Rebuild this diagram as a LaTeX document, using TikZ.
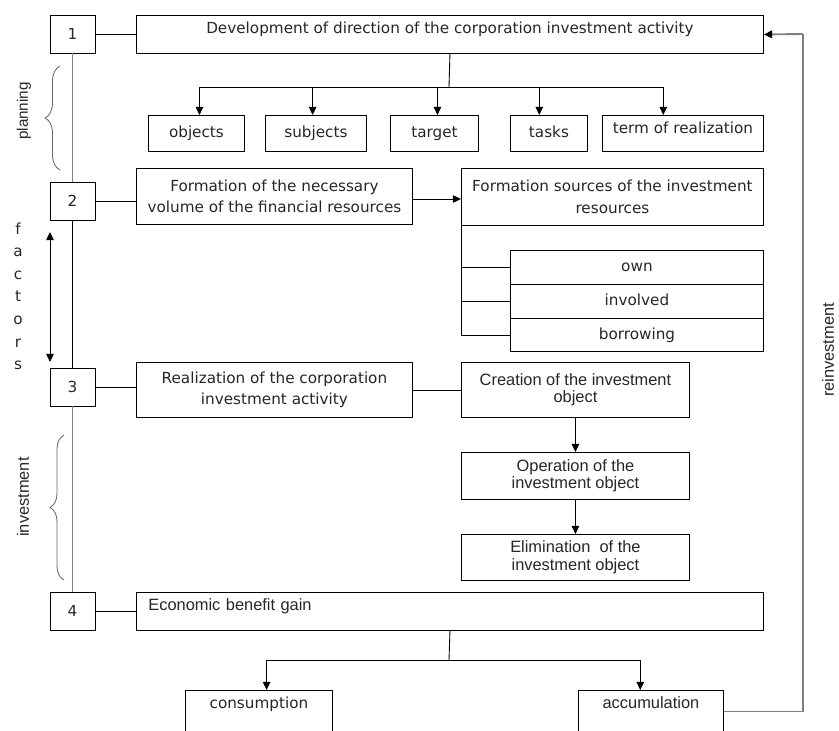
\documentclass[tikz,border=0pt]{standalone}
\usepackage{fontspec}
\setmainfont{DejaVu Sans}
\newfontfamily\arialfont{Liberation Sans}
\usetikzlibrary{arrows.meta,decorations.pathreplacing}

\tikzset{
  >={Triangle[length=7pt,width=6.5pt]},
  every node/.style={text=black!85},
  box/.style={draw, line width=0.75pt, inner sep=0pt, anchor=north west, align=center,
    font=\fontsize{13}{18.5}\selectfont},
  abox/.style={box, font=\arialfont\fontsize{14}{15}\selectfont},
  item/.style={box, minimum height=1.08cm, text height=0.35cm, text depth=0.09cm},
  numbox/.style={draw, line width=0.75pt, minimum width=1.35cm, minimum height=1.14cm,
    inner sep=0pt, font=\fontsize{13}{15}\selectfont},
  conn/.style={line width=0.75pt},
  greyline/.style={line width=1.6pt, black!50},
  bracket/.style={decorate, line width=0.7pt, black!60},
  sidelabel/.style={rotate=90, font=\arialfont\fontsize{14}{15}\selectfont}
}

\begin{document}
\begin{tikzpicture}[x=0.03cm, y=-0.03cm]

\useasboundingbox (0,0) rectangle (839,731);
\clip (0,0) rectangle (839,731);

% stage numbers
\node [numbox] (n1) at (72.5,34) {1};
\node [numbox] (n2) at (72.5,201) {2};
\node [numbox] (n3) at (72.5,387) {3};
\node [numbox] (n4) at (72.5,611) {4};

% stages
\node [box, minimum width=18.81cm, inner ysep=0.2cm, text height=0.35cm, text depth=0.39cm] (dir) at (136,15)
  {Development of direction of the corporation investment activity};
\node [box, minimum width=8.28cm, minimum height=1.68cm] (form) at (136,168)
  {Formation of the necessary\\volume of the financial resources};
\node [box, minimum width=8.28cm, minimum height=1.65cm] (real) at (136,362)
  {Realization of the corporation\\investment activity};
\node [abox, align=left, text width=18.09cm, inner xsep=0.36cm, inner ysep=0.18cm,
  text height=0.36cm, text depth=0.42cm] (gain) at (136,592) {Economic benefit gain};

% planning items
\node [item, minimum width=2.88cm] (obj) at (148,115) {objects};
\node [item, minimum width=3.03cm] (subj) at (265,115) {subjects};
\node [item, minimum width=2.64cm] (targ) at (390,115) {target};
\node [item, minimum width=2.31cm] (tasks) at (510,115) {tasks};
\node [box, minimum width=4.83cm, inner ysep=0.2cm, text height=0.35cm, text depth=0.33cm] (term) at (602,115)
  {term of realization};

% sources
\node [box, minimum width=9.06cm, minimum height=1.71cm] (fs) at (461,168)
  {Formation sources of the investment\\resources};
\node [item, minimum width=7.59cm, minimum height=1.02cm] (own) at (510,250) {own};
\node [item, minimum width=7.59cm, minimum height=1.02cm] (inv) at (510,284) {involved};
\node [item, minimum width=7.59cm, minimum height=0.99cm] (borr) at (510,318) {borrowing};

% investment object
\node [abox, minimum width=6.84cm, minimum height=1.65cm] (cr) at (461,362)
  {Creation of the investment\\object};
\node [abox, minimum width=6.84cm, minimum height=1.41cm] (op) at (461,452)
  {Operation of the\\investment object};
\node [abox, minimum width=6.84cm, minimum height=1.38cm] (el) at (461,534)
  {Elimination\ \ of the\\investment object};

% result
\node [box, minimum width=4.41cm, inner ysep=0.18cm, text height=0.36cm, text depth=0.54cm] (cons) at (185,690)
  {consumption};
\node [abox, minimum width=4.35cm, inner ysep=0.18cm, text height=0.36cm, text depth=0.54cm] (acc) at (578,690)
  {accumulation};

% side labels
\node [sidelabel, font=\arialfont\fontsize{13}{15}\selectfont] (plan) at (24,111) {planning};
\node [sidelabel] (invest) at (23,497) {investment};
\node [sidelabel] (reinv) at (828,350) {reinvestment};
\foreach \l [count=\i] in {f,a,c,t,o,r,s}
  \node [anchor=base, font=\fontsize{13}{15}\selectfont] (fac\i) at (18,{234+22.6*(\i-1)}) {\l};

\coordinate (bus1) at (449,87);
\coordinate (bus2) at (449,660);
\coordinate (ftop) at (50,232);
\coordinate (fbot) at (50,362);
\coordinate (rtop) at (803,34);

% stage links
\draw [conn] (n1.east) -- (n1.east -| dir.west);
\draw [conn] (n2.east) -- (n2.east -| form.west);
\draw [conn] (n3.east) -- (n3.east -| real.west);
\draw [conn] (n4.east) -- (n4.east -| gain.west);
\draw [greyline] (n1) -- (n2);
\draw [conn] (n2) -- (n3);
\draw [greyline] (n3) -- (n4);
\draw [conn, <->] (ftop) -- (fbot);

% planning tree
\draw [conn] (dir.south) -- (bus1);
\draw [conn, ->] (bus1) -| ([xshift=0.09cm]obj.north);
\draw [conn, ->] (bus1) -| ([xshift=-0.1cm]subj.north);
\draw [conn, ->] (bus1) -| ([xshift=0.09cm]targ.north);
\draw [conn, ->] (bus1) -| ([xshift=-0.29cm]tasks.north);
\draw [conn, ->] (bus1) -| ([xshift=-0.59cm]term.north);

% resources
\draw [conn, ->] (form.east |- 0,199) -- (fs.west |- 0,199);
\draw [conn] (fs.south west) |- (borr.west);
\draw [conn] (fs.south west |- own.west) -- (own.west);
\draw [conn] (fs.south west |- inv.west) -- (inv.west);

% realization
\draw [conn] (real) -- (cr);
\draw [conn, ->] (cr) -- (op);
\draw [conn, ->] (op) -- (el);

% result tree
\draw [conn] (gain.south) -- (bus2);
\draw [conn, ->] (bus2) -| ([xshift=0.23cm]cons.north);
\draw [conn, ->] (bus2) -| ([xshift=-0.32cm]acc.north);
\draw [greyline] (acc.east) -| (rtop);
\draw [greyline, -{Triangle[length=7pt,width=6.5pt,color=black]}] (rtop) -- (dir.east);

% braces
\draw [bracket, decoration={brace, amplitude=0.45cm}] (60,170) -- (60,66);
\draw [bracket, decoration={brace, amplitude=0.42cm}] (64,580) -- (64,435);

\end{tikzpicture}
\end{document}
